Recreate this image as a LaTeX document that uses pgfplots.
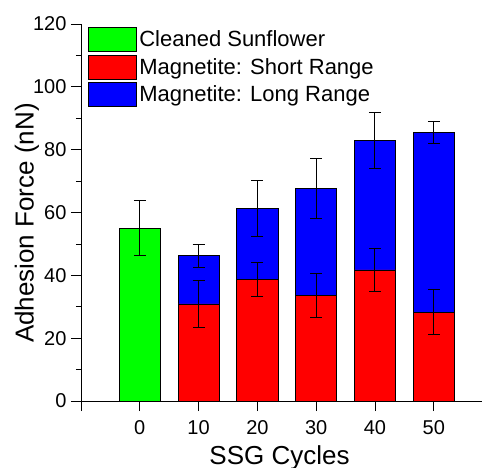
\documentclass[border=0pt]{standalone}
\usepackage{fontspec}
\setmainfont{Liberation Sans}
\usepackage{pgfplots}
\pgfplotsset{compat=1.18}
\definecolor{sfgreen}{RGB}{0,255,0}
\definecolor{mgred}{RGB}{255,0,0}
\definecolor{mgblue}{RGB}{0,0,255}
\begin{document}
\begin{tikzpicture}
\begin{axis}[
  at={(0,0)}, anchor=south west,
  scale only axis, width=401bp, height=377bp,
  xmin=-10, xmax=58.2, ymin=0, ymax=120,
  axis x line*=bottom, axis y line*=left,
  axis line style={line width=0.8bp, black},
  xtick={-10,0,10,20,30,40,50}, xticklabels={{},0,10,20,30,40,50},
  ytick={0,20,...,120}, minor ytick={10,30,...,110},
  tick align=outside, major tick length=10bp, minor tick length=5bp,
  tick style={black, line width=0.8bp},
  /pgf/number format/assume math mode=true,
  ticklabel style={font=\fontsize{20bp}{24bp}\selectfont},
  xticklabel style={anchor=base, yshift=-23bp},
  yticklabel shift=1bp,
  xlabel={SSG Cycles}, ylabel={Adhesion Force (nN)},
  label style={font=\fontsize{26bp}{30bp}\selectfont},
  xlabel style={at={(axis description cs:0.495,0)}, anchor=base, yshift=-63bp},
  ylabel style={at={(axis description cs:-0.118,0.472)}, anchor=base},
  legend style={at={(axis description cs:0.0175,0.992)}, anchor=north west,
    draw=none, fill=none, inner sep=0pt, outer sep=0pt,
    font=\fontsize{22bp}{26bp}\selectfont, row sep=2.7bp,
    nodes={inner sep=2.5bp, xshift=1.5bp}},
  legend cell align=left,
  legend image code/.code={\draw[#1] (0bp,-12bp) rectangle (48bp,12bp);},
  bar/.style={ybar, bar width=7, bar shift=0pt, draw=black,
    line width=0.8bp, mark=none},
  error bars/error bar style={line width=1bp, black},
  error bars/error mark options={mark size=6bp, line width=1bp, black, rotate=90},
]
% cleaned sunflower reference
\addplot[bar, fill=sfgreen, error bars/.cd, y dir=both, y explicit]
  coordinates {(0,55.0) +- (0,8.8)};
\addlegendentry{Cleaned Sunflower}
\addlegendimage{fill=mgred, draw=black, line width=0.8bp}
\addlegendentry{Magnetite: Short Range}
% total force (short + long range)
\addplot[bar, fill=mgblue, error bars/.cd, y dir=both, y explicit]
  coordinates {
  (10,46.2) +- (0,3.6)
  (20,61.3) +- (0,9.0)
  (30,67.7) +- (0,9.6)
  (40,83.0) +- (0,8.9)
  (50,85.5) +- (0,3.6)
  };
\addlegendentry{Magnetite: Long Range}
% short range part
\addplot[bar, fill=mgred, forget plot, error bars/.cd, y dir=both, y explicit]
  coordinates {
  (10,30.9) +- (0,7.5)
  (20,38.8) +- (0,5.4)
  (30,33.6) +- (0,6.9)
  (40,41.7) +- (0,6.7)
  (50,28.3) +- (0,7.2)
  };
\end{axis}
\pgfresetboundingbox
\path (-81bp,-67bp) rectangle (402bp,401bp);
\end{tikzpicture}
\end{document}
